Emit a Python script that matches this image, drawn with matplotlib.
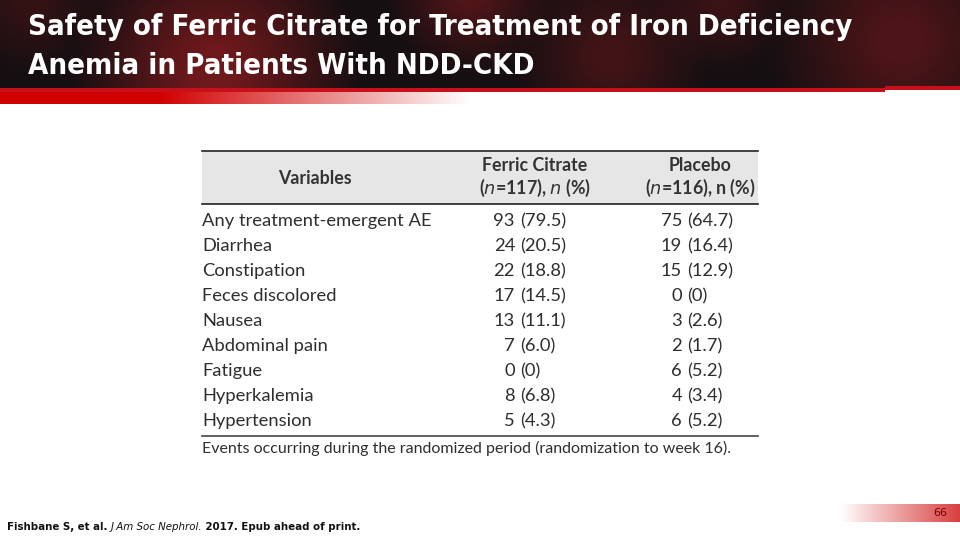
import numpy as np
import matplotlib.pyplot as plt
from matplotlib.patches import Rectangle

# ---- data ----
title_lines = ["Safety of Ferric Citrate for Treatment of Iron Deficiency",
               "Anemia in Patients With NDD-CKD"]
col_headers = ["Variables", "Ferric Citrate\n($n$=117), $n$ (%)", "Placebo\n($n$=116), n (%)"]
variables = ["Any treatment-emergent AE", "Diarrhea", "Constipation",
             "Feces discolored", "Nausea", "Abdominal pain", "Fatigue",
             "Hyperkalemia", "Hypertension"]
fc_n = [93, 24, 22, 17, 13, 7, 0, 8, 5]
fc_pct = ["79.5", "20.5", "18.8", "14.5", "11.1", "6.0", "0", "6.8", "4.3"]
pl_n = [75, 19, 15, 0, 3, 2, 6, 4, 6]
pl_pct = ["64.7", "16.4", "12.9", "0", "2.6", "1.7", "5.2", "3.4", "5.2"]
footnote = "Events occurring during the randomized period (randomization to week 16)."
citation = ["Fishbane S, et al. ", "J Am Soc Nephrol.", " 2017. Epub ahead of print."]
page_no = "66"

W, H = 960, 540
fig = plt.figure(figsize=(9.6, 5.4), dpi=100)
ax = fig.add_axes([0, 0, 1, 1])
ax.set_xlim(0, W)
ax.set_ylim(H, 0)
ax.axis('off')
renderer = fig.canvas.get_renderer()


def width_px(t):
    return t.get_window_extent(renderer).width


def fit(t, target):
    # shrink/grow font so the text spans the target width in pixels
    t.set_fontsize(t.get_fontsize() * target / width_px(t))


# ---- header background (dark with blurred red cells) ----
hx, hy = np.meshgrid(np.arange(W), np.arange(90))
bg = np.zeros((90, W, 3))
bg[..., 0] = 0.09
bg[..., 1] = 0.06
bg[..., 2] = 0.07
blobs = [(215, 70, 120, 0.45), (470, -10, 70, 0.30), (610, 55, 80, 0.22),
         (900, 40, 110, 0.28), (720, 0, 60, 0.18), (30, 0, 60, 0.15)]
for cx, cy, r, a in blobs:
    d = np.sqrt((hx - cx) ** 2 + (hy - cy) ** 2)
    w = a * np.clip(1.2 - d / r, 0, 1)
    bg[..., 0] += w * 0.75
    bg[..., 1] += w * 0.08
    bg[..., 2] += w * 0.08
ax.imshow(np.clip(bg, 0, 1), extent=[0, W, 90, 0], aspect='auto', zorder=0)

# red band under the header
grad = np.ones((1, 480, 3))
t = np.clip((np.arange(480) - 160) / 310, 0, 1)
grad[0, :, 0] = 0.82 + 0.18 * t
grad[0, :, 1] = t
grad[0, :, 2] = t
ax.imshow(grad, extent=[0, 480, 104, 88], aspect='auto', zorder=1)
ax.add_patch(Rectangle((0, 88), 885, 4, color='#c8101a', lw=0, zorder=2))
ax.add_patch(Rectangle((885, 86), 75, 4, color='#c8101a', lw=0, zorder=2))

# title
tfont = dict(family=['DejaVu Sans'], stretch='condensed', weight='bold',
             size=22, color='white', va='center', ha='left', zorder=3)
t1 = ax.text(28, 27, title_lines[0], **tfont)
fit(t1, 822)
t2 = ax.text(28, 66, title_lines[1], **tfont)
t2.set_fontsize(t1.get_fontsize())

# ---- table ----
x0, x1 = 202, 758
top, head_bot, bot = 151, 204, 436
ax.add_patch(Rectangle((x0, top), x1 - x0, head_bot - top, color='#e6e6e6', lw=0, zorder=1))
ax.plot([x0, x1], [top, top], color='#222222', lw=1.2, zorder=2)
ax.plot([x0, x1], [head_bot, head_bot], color='#222222', lw=1.2, zorder=2)
ax.plot([x0, x1], [bot, bot], color='#444444', lw=1.2, zorder=2)

tf = dict(family=['Lato', 'DejaVu Sans'], size=13.2, color='#2e2e2e')
hf = dict(family=['Lato', 'DejaVu Sans'], size=12.8, color='#333333', weight='bold')
ax.text(315, 178, col_headers[0], ha='center', va='center', **hf)
ax.text(535, 178, col_headers[1], ha='center', va='center', linespacing=1.15, **hf)
ax.text(700, 178, col_headers[2], ha='center', va='center', linespacing=1.15, **hf)

row0, dy = 221, 25
for i, v in enumerate(variables):
    y = row0 + i * dy
    ax.text(x0, y, v, ha='left', va='center', **tf)
    ax.text(515, y, str(fc_n[i]), ha='right', va='center', **tf)
    ax.text(520, y, "(%s)" % fc_pct[i], ha='left', va='center', **tf)
    ax.text(682, y, str(pl_n[i]), ha='right', va='center', **tf)
    ax.text(687, y, "(%s)" % pl_pct[i], ha='left', va='center', **tf)

fn = ax.text(x0, 448, footnote, ha='left', va='center', family=['Lato', 'DejaVu Sans'],
             size=11.5, color='#2e2e2e')
fit(fn, 529)

# ---- citation ----
cf = dict(family=['DejaVu Sans'], stretch='condensed', size=8.5, color='#111111',
          va='center', ha='left')
c_parts = [ax.text(7, 527, citation[0], weight='bold', **cf),
           ax.text(7, 527, citation[1], style='italic', **cf),
           ax.text(7, 527, citation[2], weight='bold', **cf)]
total = sum(width_px(c) for c in c_parts)
for c in c_parts:
    c.set_fontsize(c.get_fontsize() * 355 / total)
xc = 7
for c in c_parts:
    c.set_x(xc)
    xc += width_px(c)

# ---- page number with fading bar ----
pg = np.ones((1, 120, 3))
s = np.linspace(1, 0, 120)
pg[0, :, 0] = 0.85 + 0.15 * s
pg[0, :, 1] = 0.25 + 0.75 * s
pg[0, :, 2] = 0.25 + 0.75 * s
ax.imshow(pg, extent=[840, 960, 522, 504], aspect='auto', zorder=1)
ax.text(940, 513, page_no, ha='center', va='center', family=['DejaVu Sans'],
        size=8, color='#7a0000', zorder=3)

fig.savefig('out.png', dpi=100)
